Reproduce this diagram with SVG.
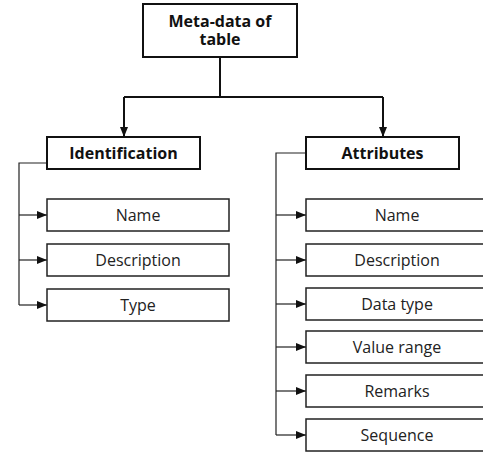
<svg xmlns="http://www.w3.org/2000/svg" width="483" height="452" viewBox="0 0 483 452">
<style>
.box{fill:#fff;stroke:#222;stroke-width:1.5}
.hbox{fill:#fff;stroke:#111;stroke-width:2}
.t{font-family:"Open Sans","Noto Sans",sans-serif;font-size:16px;fill:#222;text-anchor:middle}
.b{font-family:"Open Sans","Noto Sans",sans-serif;font-size:16px;font-weight:bold;fill:#111;text-anchor:middle}
.c{fill:none;stroke:#222;stroke-width:1.2}
.m{fill:none;stroke:#111;stroke-width:2}
</style>
<defs>
<marker id="ah" viewBox="0 0 10 10" refX="10" refY="5" markerWidth="10" markerHeight="10" markerUnits="userSpaceOnUse" orient="auto">
<path d="M0,1 L10,5 L0,9 Z" fill="#111"/>
</marker>
</defs>
<g id="connectors">
<path class="m" d="M220,57 V97"/>
<path class="m" d="M124,97 H383"/>
<path class="m" d="M124,97 V137" marker-end="url(#ah)"/>
<path class="m" d="M383,97 V137" marker-end="url(#ah)"/>
<path class="c" d="M47,163 H19 V305"/>
<path class="c" d="M19,215 H47" marker-end="url(#ah)"/>
<path class="c" d="M19,260 H47" marker-end="url(#ah)"/>
<path class="c" d="M19,305 H47" marker-end="url(#ah)"/>
<path class="c" d="M306,153 H276 V435"/>
<path class="c" d="M276,215 H306" marker-end="url(#ah)"/>
<path class="c" d="M276,260 H306" marker-end="url(#ah)"/>
<path class="c" d="M276,304 H306" marker-end="url(#ah)"/>
<path class="c" d="M276,347 H306" marker-end="url(#ah)"/>
<path class="c" d="M276,391 H306" marker-end="url(#ah)"/>
<path class="c" d="M276,435 H306" marker-end="url(#ah)"/>
</g>
<g id="root"><rect class="hbox" x="143" y="4" width="154" height="53"/><text class="b" x="220" y="26.5">Meta-data of</text><text class="b" x="220" y="45">table</text></g>
<g id="identification"><rect class="hbox" x="47" y="137" width="153" height="32"/><text class="b" x="123.5" y="158.5">Identification</text></g>
<g id="attributes"><rect class="hbox" x="306" y="137" width="153" height="32"/><text class="b" x="382.5" y="158.5">Attributes</text></g>
<g id="id-name"><rect class="box" x="47" y="199" width="182" height="32"/><text class="t" x="138" y="221">Name</text></g>
<g id="id-description"><rect class="box" x="47" y="244" width="182" height="32"/><text class="t" x="138" y="266">Description</text></g>
<g id="id-type"><rect class="box" x="47" y="289" width="182" height="32"/><text class="t" x="138" y="311">Type</text></g>
<g id="at-name"><rect class="box" x="306" y="199" width="182" height="32"/><text class="t" x="397" y="221">Name</text></g>
<g id="at-description"><rect class="box" x="306" y="244" width="182" height="32"/><text class="t" x="397" y="266">Description</text></g>
<g id="at-datatype"><rect class="box" x="306" y="288" width="182" height="32"/><text class="t" x="397" y="310">Data type</text></g>
<g id="at-valuerange"><rect class="box" x="306" y="331" width="182" height="32"/><text class="t" x="397" y="353">Value range</text></g>
<g id="at-remarks"><rect class="box" x="306" y="375" width="182" height="32"/><text class="t" x="397" y="397">Remarks</text></g>
<g id="at-sequence"><rect class="box" x="306" y="419" width="182" height="32"/><text class="t" x="397" y="441">Sequence</text></g>
</svg>
